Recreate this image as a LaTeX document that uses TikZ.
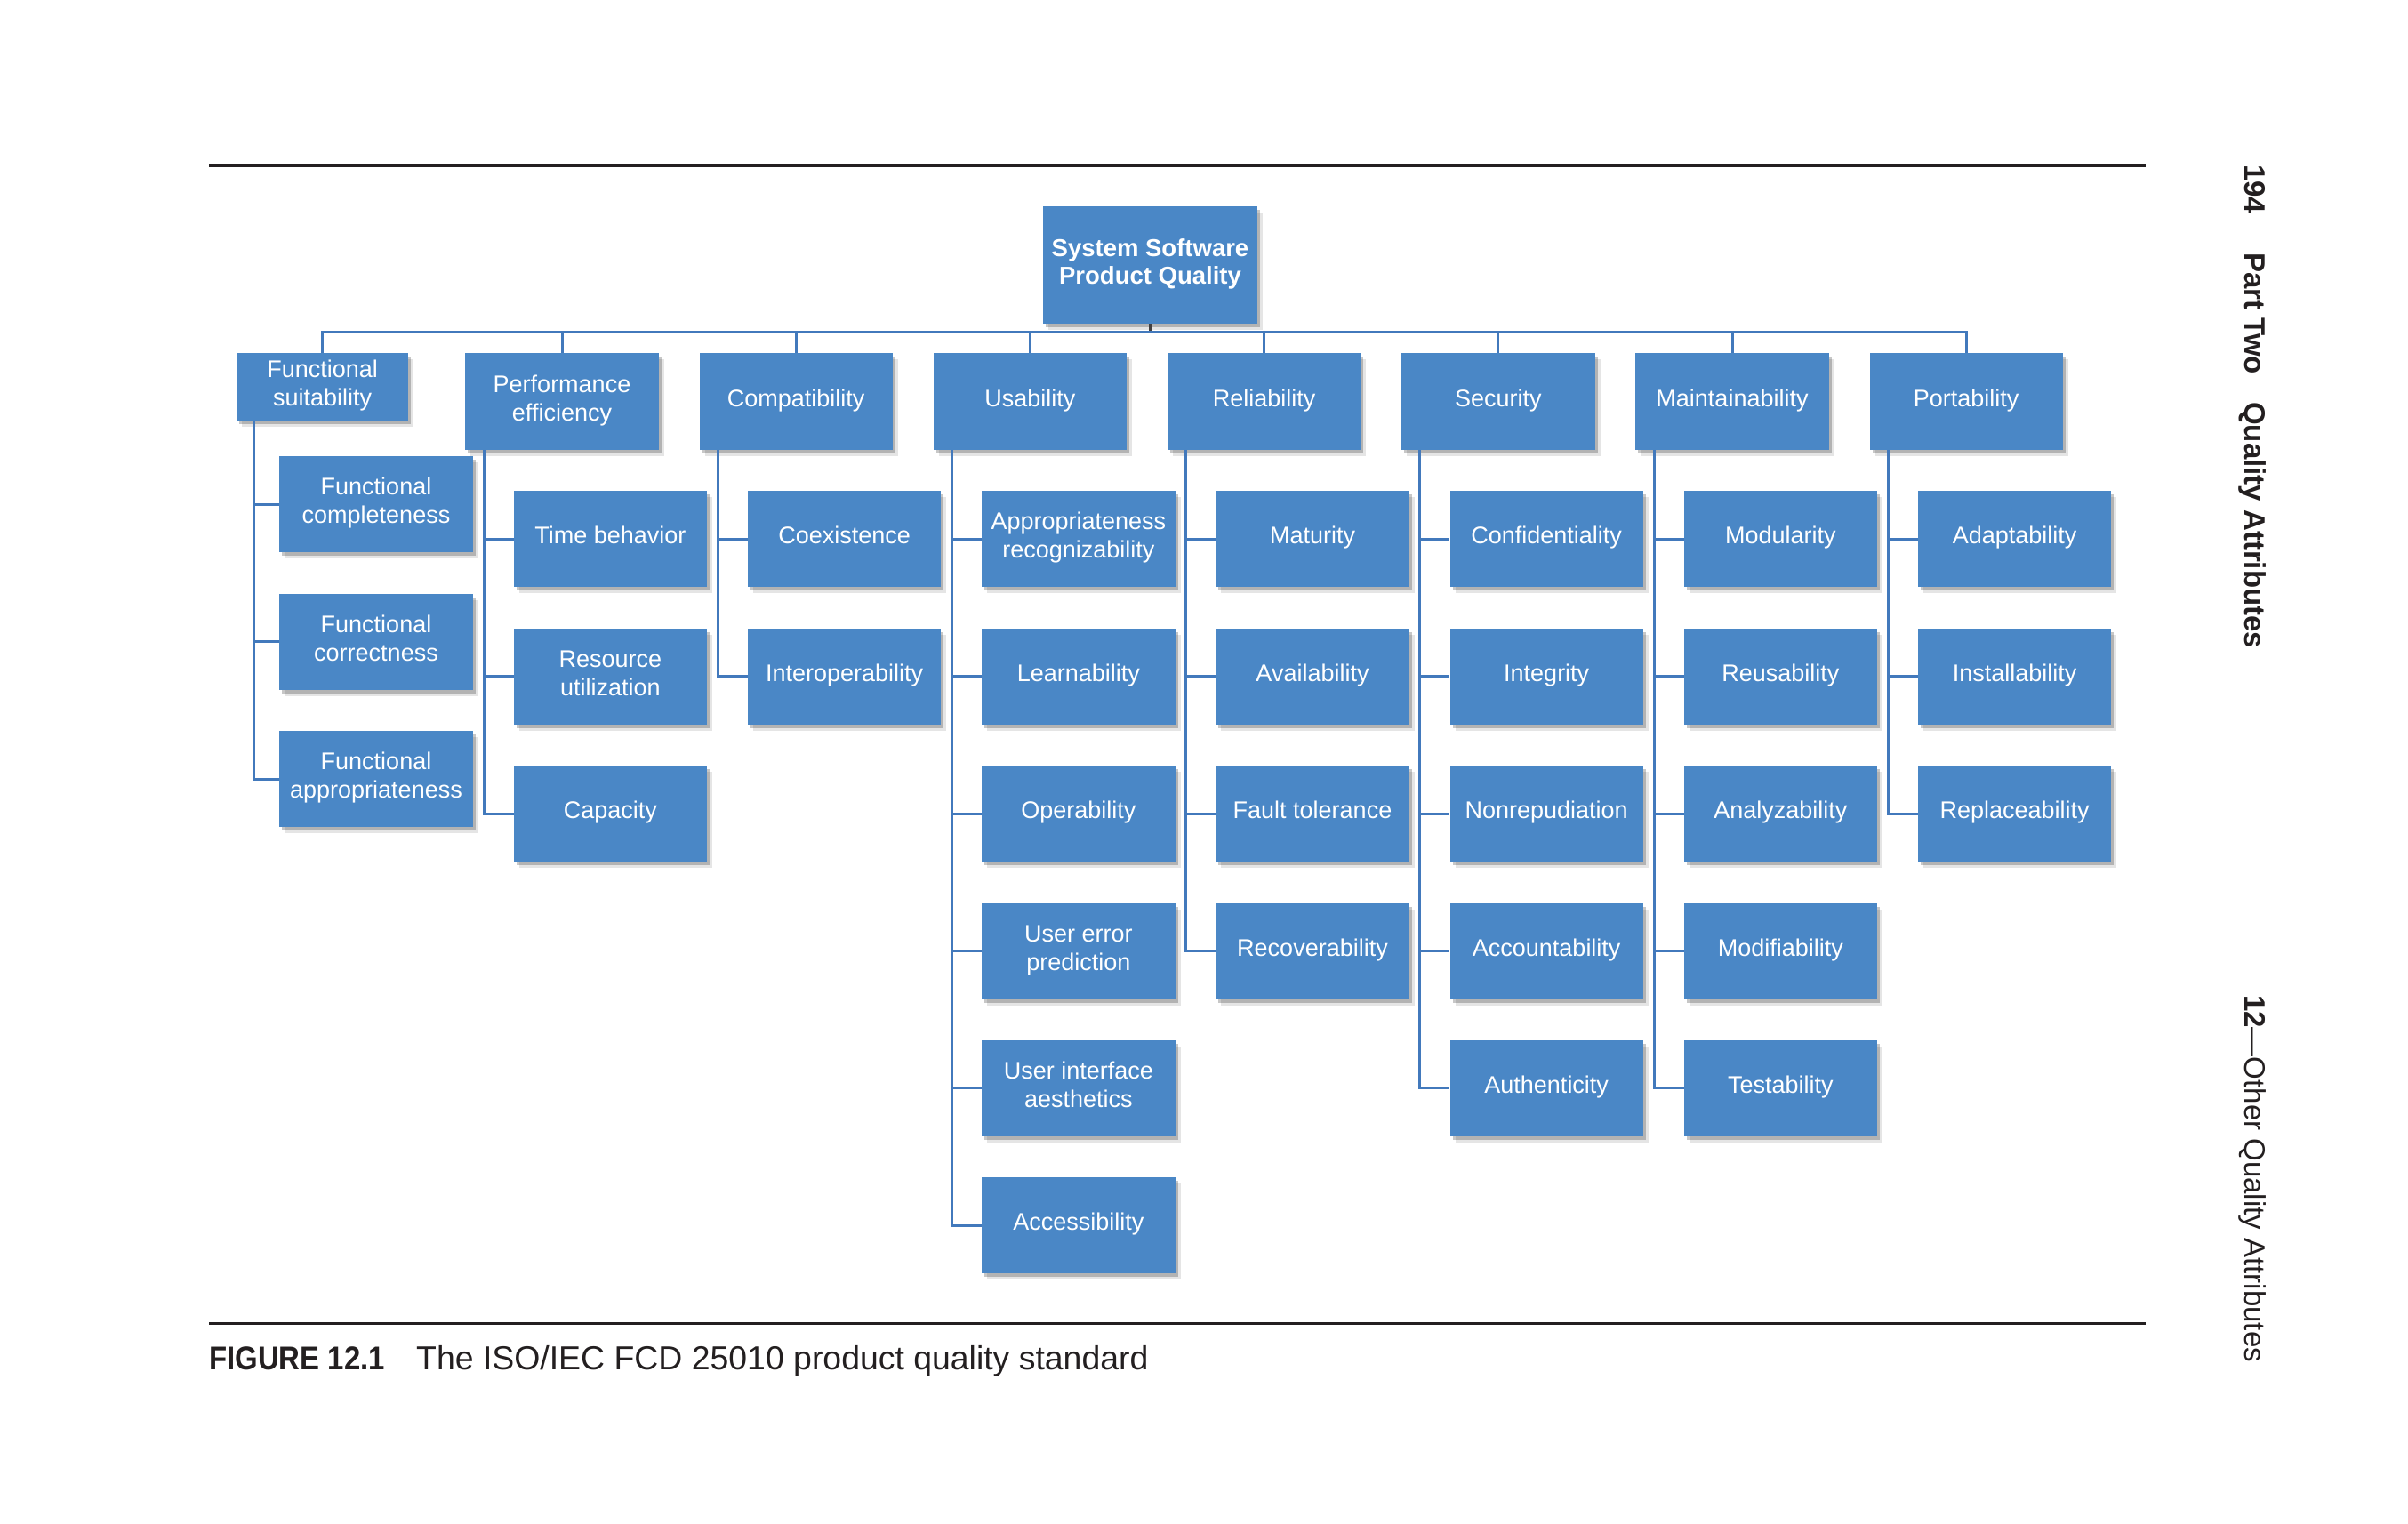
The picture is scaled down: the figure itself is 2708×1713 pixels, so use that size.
\documentclass[tikz,border=0pt]{standalone}
\usepackage{fontspec}
\usepackage{graphicx}
\setmainfont{Liberation Sans}
\usetikzlibrary{shadows}
\definecolor{boxblue}{RGB}{74,135,198}
\definecolor{lineblue}{RGB}{66,121,188}
\definecolor{ink}{RGB}{35,31,32}
\newcommand{\qtop}{\rule{0pt}{20pt}}
\newcommand{\qbot}{\rule[-8.7pt]{0pt}{8.7pt}}
\begin{document}
\begin{tikzpicture}[x=1pt,y=-1pt,
  qbox/.style={rectangle, fill=boxblue, text=white, align=center, inner sep=0pt,
    font=\fontsize{27}{32}\selectfont,
    drop shadow={shadow xshift=3pt,shadow yshift=-4pt,fill=black,opacity=0.22},
    drop shadow={shadow xshift=6pt,shadow yshift=-7pt,fill=black,opacity=0.10}},
  topbox/.style={qbox, minimum width=217.4pt, minimum height=108.7pt},
  subbox/.style={qbox, minimum width=217.4pt, minimum height=108pt},
  conn/.style={draw=lineblue, line width=3pt},
  rulestyle/.style={draw=ink, line width=2.5pt},
  pagetext/.style={text=ink, inner sep=0pt, anchor=base west}
]
\useasboundingbox (0,0) rectangle (2708,1713);

% rules
\draw[rulestyle] (235,186.5) -- (2413,186.5);
\draw[rulestyle] (235,1488.3) -- (2413,1488.3);

% root
\node[qbox, font=\bfseries\fontsize{27.5}{31}\selectfont, minimum width=241pt, minimum height=132pt] (root) at (1293.5,298) {\qtop System Software\\Product Quality\qbot};

% top level
\node[qbox, minimum width=193.3pt, minimum height=76pt] (fs) at (362.7,435.3) {\qtop Functional\\suitability\qbot};
\node[topbox] (pe) at (632,451.65) {\qtop Performance\\efficiency\qbot};
\node[topbox] (co) at (895.2,451.65) {\qtop Compatibility\qbot};
\node[topbox] (us) at (1158.4,451.65) {\qtop Usability\qbot};
\node[topbox] (re) at (1421.6,451.65) {\qtop Reliability\qbot};
\node[topbox] (se) at (1684.8,451.65) {\qtop Security\qbot};
\node[topbox] (ma) at (1948,451.65) {\qtop Maintainability\qbot};
\node[topbox] (po) at (2211.2,451.65) {\qtop Portability\qbot};

% functional suitability children
\node[subbox] (fs1) at (423,567.3) {\qtop Functional\\completeness\qbot};
\node[subbox] (fs2) at (423,721.9) {\qtop Functional\\correctness\qbot};
\node[subbox] (fs3) at (423,876.3) {\qtop Functional\\appropriateness\qbot};

% performance efficiency
\node[subbox] (pe1) at (686.4,606.3) {\qtop Time behavior\qbot};
\node[subbox] (pe2) at (686.4,760.7) {\qtop Resource\\utilization\qbot};
\node[subbox] (pe3) at (686.4,915.1) {\qtop Capacity\qbot};

% compatibility
\node[subbox] (co1) at (949.6,606.3) {\qtop Coexistence\qbot};
\node[subbox] (co2) at (949.6,760.7) {\qtop Interoperability\qbot};

% usability
\node[subbox] (us1) at (1212.8,606.3) {\qtop Appropriateness\\recognizability\qbot};
\node[subbox] (us2) at (1212.8,760.7) {\qtop Learnability\qbot};
\node[subbox] (us3) at (1212.8,915.1) {\qtop Operability\qbot};
\node[subbox] (us4) at (1212.8,1069.5) {\qtop User error\\prediction\qbot};
\node[subbox] (us5) at (1212.8,1223.9) {\qtop User interface\\aesthetics\qbot};
\node[subbox] (us6) at (1212.8,1378.3) {\qtop Accessibility\qbot};

% reliability
\node[subbox] (re1) at (1476,606.3) {\qtop Maturity\qbot};
\node[subbox] (re2) at (1476,760.7) {\qtop Availability\qbot};
\node[subbox] (re3) at (1476,915.1) {\qtop Fault tolerance\qbot};
\node[subbox] (re4) at (1476,1069.5) {\qtop Recoverability\qbot};

% security
\node[subbox] (se1) at (1739.2,606.3) {\qtop Confidentiality\qbot};
\node[subbox] (se2) at (1739.2,760.7) {\qtop Integrity\qbot};
\node[subbox] (se3) at (1739.2,915.1) {\qtop Nonrepudiation\qbot};
\node[subbox] (se4) at (1739.2,1069.5) {\qtop Accountability\qbot};
\node[subbox] (se5) at (1739.2,1223.9) {\qtop Authenticity\qbot};

% maintainability
\node[subbox] (ma1) at (2002.4,606.3) {\qtop Modularity\qbot};
\node[subbox] (ma2) at (2002.4,760.7) {\qtop Reusability\qbot};
\node[subbox] (ma3) at (2002.4,915.1) {\qtop Analyzability\qbot};
\node[subbox] (ma4) at (2002.4,1069.5) {\qtop Modifiability\qbot};
\node[subbox] (ma5) at (2002.4,1223.9) {\qtop Testability\qbot};

% portability
\node[subbox] (po1) at (2265.6,606.3) {\qtop Adaptability\qbot};
\node[subbox] (po2) at (2265.6,760.7) {\qtop Installability\qbot};
\node[subbox] (po3) at (2265.6,915.1) {\qtop Replaceability\qbot};

% bus connectors
\coordinate (bus) at (1293.5,373);
\draw[draw=ink!85, line width=3pt] (root.south) -- (root.south |- bus);
\draw[conn] (fs.north) -- (fs.north |- bus) -- (po.north |- bus) -- (po.north);
\foreach \n in {pe,co,us,re,se,ma} \draw[conn] (\n.north |- bus) -- (\n.north);

% child connectors
\foreach \c in {fs1,fs2,fs3} \draw[conn] ([xshift=-77.7pt]fs.south) |- (\c.west);
\foreach \c in {pe1,pe2,pe3} \draw[conn] ([xshift=-88pt]pe.south) |- (\c.west);
\foreach \c in {co1,co2} \draw[conn] ([xshift=-88pt]co.south) |- (\c.west);
\foreach \c in {us1,us2,us3,us4,us5,us6} \draw[conn] ([xshift=-88pt]us.south) |- (\c.west);
\foreach \c in {re1,re2,re3,re4} \draw[conn] ([xshift=-88pt]re.south) |- (\c.west);
\foreach \c in {se1,se2,se3,se4,se5} \draw[conn] ([xshift=-88pt]se.south) |- (\c.west);
\foreach \c in {ma1,ma2,ma3,ma4,ma5} \draw[conn] ([xshift=-88pt]ma.south) |- (\c.west);
\foreach \c in {po1,po2,po3} \draw[conn] ([xshift=-88pt]po.south) |- (\c.west);

% caption
\node[pagetext, font=\fontsize{37}{40}\selectfont] (figlabel) at (235,1540) {\scalebox{0.89}[1]{\bfseries FIGURE 12.1}};
\node[pagetext, font=\fontsize{37.4}{40}\selectfont] (figcap) at (468,1540) {The ISO/IEC FCD 25010 product quality standard};

% running head (rotated)
\node[pagetext, rotate=-90, font=\bfseries\fontsize{33}{36}\selectfont] (pagenum) at (2524,185) {194};
\node[pagetext, rotate=-90, font=\bfseries\fontsize{33}{36}\selectfont] (partname) at (2524,284) {Part Two};
\node[pagetext, rotate=-90, font=\bfseries\fontsize{33}{36}\selectfont] (parttitle) at (2524,452) {Quality Attributes};
\node[pagetext, rotate=-90, font=\fontsize{33}{36}\selectfont] (chapter) at (2524,1119) {\textbf{12}—Other Quality Attributes};
\end{tikzpicture}
\end{document}
